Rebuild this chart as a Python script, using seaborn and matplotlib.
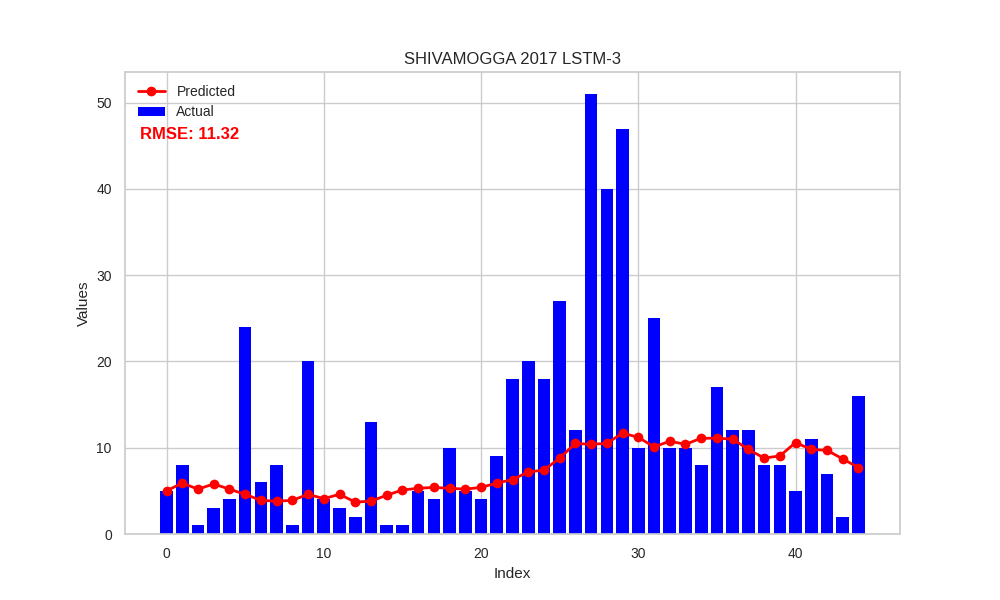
import numpy as np
import pandas as pd
import matplotlib
matplotlib.use("Agg")
import matplotlib.pyplot as plt
import seaborn as sns

index = list(range(45))
actual = [5, 8, 1, 3, 4, 24, 6, 8, 1, 20, 4, 3, 2, 13, 1, 1, 5, 4, 10, 5,
          4, 9, 18, 20, 18, 27, 12, 51, 40, 47, 10, 25, 10, 10, 8, 17, 12, 12, 8, 8,
          5, 11, 7, 2, 16]
predicted = [5.0, 5.9, 5.2, 5.8, 5.2, 4.6, 3.9, 3.8, 3.9, 4.6, 4.1, 4.6, 3.7, 3.8, 4.5,
             5.1, 5.3, 5.4, 5.3, 5.2, 5.4, 5.9, 6.3, 7.2, 7.4, 8.8, 10.5, 10.4, 10.5, 11.7,
             11.2, 10.1, 10.75, 10.4, 11.1, 11.1, 11.0, 9.8, 8.8, 9.05, 10.6, 9.8, 9.7, 8.7, 7.7]
title = "SHIVAMOGGA 2017 LSTM-3"
rmse_text = "RMSE: 11.32"

sns.set_theme(style="whitegrid")
plt.rcParams['font.family'] = ['Liberation Sans', 'DejaVu Sans']

df = pd.DataFrame({"Index": index, "Actual": actual, "Predicted": predicted})

fig, ax = plt.subplots(figsize=(10, 6), dpi=100)
ax.bar(df["Index"], df["Actual"], color="blue", width=0.8, linewidth=0, label="Actual")
sns.lineplot(data=df, x="Index", y="Predicted", ax=ax, color="red", marker="o",
             markersize=7, linewidth=2, markeredgewidth=0, label="Predicted")

ax.set_title(title, fontsize=12)
ax.set_xlabel("Index", fontsize=11)
ax.set_ylabel("Values", fontsize=11)
ax.tick_params(labelsize=10)
ax.set_xticks([0, 10, 20, 30, 40])
ax.set_yticks([0, 10, 20, 30, 40, 50])

h, l = ax.get_legend_handles_labels()
order = [l.index("Predicted"), l.index("Actual")]
ax.legend([h[i] for i in order], [l[i] for i in order], loc="upper left",
          frameon=False, fontsize=10)
ax.text(0.02, 0.865, rmse_text, transform=ax.transAxes, color="red",
        fontsize=12, fontweight="bold", va="center", ha="left")

fig.savefig("out.png", dpi=100)
